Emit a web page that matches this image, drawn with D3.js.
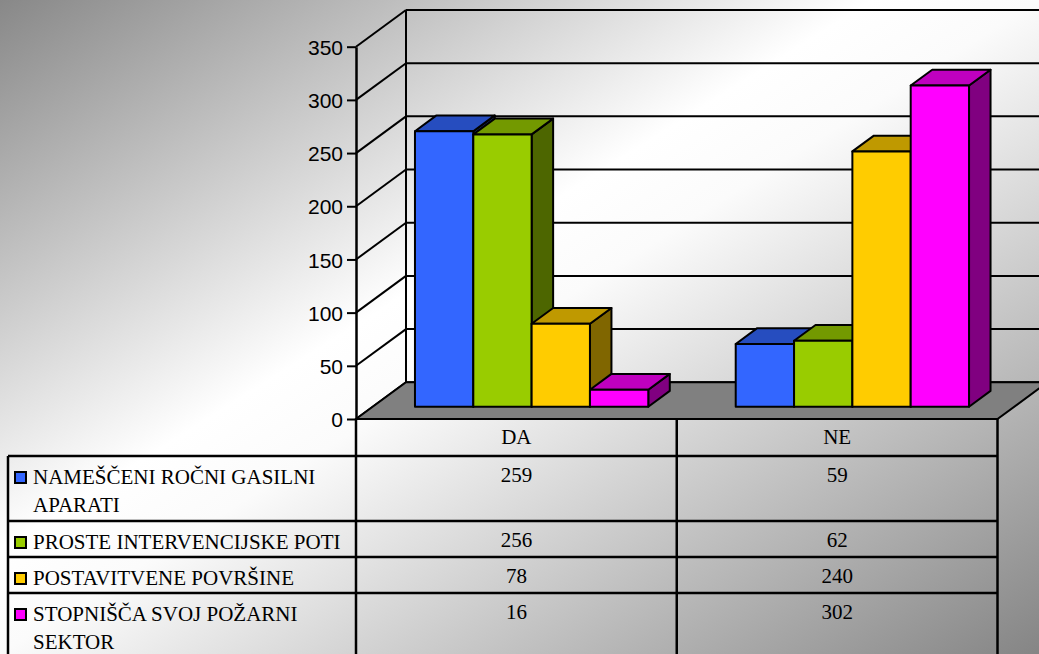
<!DOCTYPE html>
<html>
<head>
<meta charset="utf-8">
<script src="https://cdn.jsdelivr.net/npm/d3@7"></script>
<style>
html,body{margin:0;padding:0;overflow:hidden;background:#fff;}
svg{display:block;}
</style>
</head>
<body>
<svg id="chart" width="1039" height="654"></svg>
<script>
// ---- data ----
const categories = ["DA", "NE"];
const seriesNames = [
  "NAMEŠČENI ROČNI GASILNI APARATI",
  "PROSTE INTERVENCIJSKE POTI",
  "POSTAVITVENE POVRŠINE",
  "STOPNIŠČA SVOJ POŽARNI SEKTOR"
];
const seriesColors = ["#3366FF", "#99CC00", "#FFCC00", "#FF00FF"];
const valuesDA = [259, 256, 78, 16];
const valuesNE = [59, 62, 240, 302];
const tickValues = [0, 50, 100, 150, 200, 250, 300, 350];

const seriesValues = [valuesDA, valuesNE]; // indexed by category

// ---- layout ----
const W = 1039, H = 654;
const DX = 50, DY = -36.7;          // depth projection of the whole plot
const Z0 = 0.335, Z1 = 0.765;       // bar depth range (fraction of depth)
const groupFrac = 0.7274;

const svg = d3.select("#chart");
const defs = svg.append("defs");
const grad = defs.append("linearGradient").attr("id", "bg")
  .attr("x1", 0).attr("y1", 0).attr("x2", 1).attr("y2", 1);
grad.append("stop").attr("offset", 0).attr("stop-color", "#888888");
grad.append("stop").attr("offset", 0.42).attr("stop-color", "#ffffff");
grad.append("stop").attr("offset", 0.5).attr("stop-color", "#fbfbfb");
grad.append("stop").attr("offset", 1).attr("stop-color", "#858585");
svg.append("rect").attr("width", W).attr("height", H).attr("fill", "url(#bg)");

const y = d3.scaleLinear().domain([0, 350]).range([419, 46.7]);
const x0 = d3.scaleBand().domain(categories).range([356, 997.5]).padding(0);
const groupW = x0.bandwidth() * groupFrac;
const x1 = d3.scaleBand().domain(d3.range(seriesNames.length)).range([0, groupW]).padding(0);

const proj = (x, v, z) => [x + z * DX, y(v) + z * DY];
const line = d3.line();

const gWall = svg.append("g").attr("stroke", "#000").attr("stroke-width", 2).attr("fill", "none");
tickValues.forEach(v => {
  gWall.append("path").attr("d", line([proj(356, v, 0), proj(356, v, 1)]));
  gWall.append("path").attr("d", line([proj(356, v, 1), proj(1100, v, 1)]));
});
gWall.append("path").attr("d", line([proj(356, 0, 1), proj(356, 350, 1)]));

// floor
svg.append("path")
  .attr("d", line([proj(356, 0, 0), proj(356, 0, 1), proj(997.5, 0, 1), proj(997.5, 0, 0)]) + "Z")
  .attr("fill", "#808080").attr("stroke", "#000").attr("stroke-width", 2).attr("stroke-linejoin", "miter");

// bars
const shade = (c, k) => { const r = d3.rgb(c); return d3.rgb(r.r * k, r.g * k, r.b * k).formatHex(); };
const gBars = svg.append("g").attr("stroke", "#000").attr("stroke-width", 2).attr("stroke-linejoin", "round");
categories.forEach((cat, ci) => {
  const gx = x0(cat) + (x0.bandwidth() - groupW) / 2 - 1.5;
  seriesValues[ci].forEach((v, si) => {
    const xl = gx + x1(si), xr = xl + x1.bandwidth();
    const col = seriesColors[si];
    gBars.append("path").attr("fill", shade(col, 0.5))
      .attr("d", line([proj(xr, 0, Z0), proj(xr, 0, Z1), proj(xr, v, Z1), proj(xr, v, Z0)]) + "Z");
    gBars.append("path").attr("fill", shade(col, 0.75))
      .attr("d", line([proj(xl, v, Z0), proj(xl, v, Z1), proj(xr, v, Z1), proj(xr, v, Z0)]) + "Z");
    gBars.append("path").attr("fill", col)
      .attr("d", line([proj(xl, 0, Z0), proj(xl, v, Z0), proj(xr, v, Z0), proj(xr, 0, Z0)]) + "Z");
  });
});

// front value axis
const axis = d3.axisLeft(y).tickValues(tickValues).tickSize(9).tickSizeOuter(0).tickPadding(4);
const gAxis = svg.append("g").attr("transform", "translate(356,0)").call(axis);
gAxis.select(".domain").attr("stroke", "#000").attr("stroke-width", 2.5);
gAxis.selectAll(".tick line").attr("stroke", "#000").attr("stroke-width", 2);
gAxis.selectAll(".tick text").attr("fill", "#000")
  .style("font-family", "'Liberation Sans', Arial, sans-serif").style("font-size", "21px")
  .attr("dy", "0.36em");

// ---- data table ----
const tFont = "'Liberation Serif', 'Times New Roman', serif";
const gTable = svg.append("g");
const headerTop = 419, headerBottom = 456;
const tableLeft = 8, tableRight = x0.range()[1];
const labelX = 33, maxLabelW = 320;

categories.forEach(cat => {
  gTable.append("text").attr("x", x0(cat) + x0.bandwidth() / 2).attr("y", headerTop + 25)
    .attr("text-anchor", "middle").style("font-family", tFont).style("font-size", "21px").text(cat);
});

const measure = gTable.append("text").style("font-family", tFont).style("font-size", "21px").attr("opacity", 0);
function wrap(str) {
  const words = str.split(" ");
  const lines = [];
  let cur = "";
  words.forEach(w => {
    const t = cur ? cur + " " + w : w;
    measure.text(t);
    if (measure.node().getComputedTextLength() > maxLabelW && cur) { lines.push(cur); cur = w; }
    else cur = t;
  });
  if (cur) lines.push(cur);
  return lines;
}

let rowTop = headerBottom;
const rowTops = [];
seriesNames.forEach((name, si) => {
  const lines = wrap(name);
  const rh = 36 + 29 * (lines.length - 1);
  rowTops.push(rowTop);
  gTable.append("rect").attr("x", 15).attr("y", rowTop + 16).attr("width", 11).attr("height", 11)
    .attr("fill", seriesColors[si]).attr("stroke", "#000").attr("stroke-width", 2);
  const t = gTable.append("text").style("font-family", tFont).style("font-size", "21px");
  lines.forEach((ln, li) => {
    t.append("tspan").attr("x", labelX).attr("y", rowTop + 28 + li * 28).text(ln);
  });
  categories.forEach((cat, ci) => {
    gTable.append("text").attr("x", x0(cat) + x0.bandwidth() / 2).attr("y", rowTop + 26)
      .attr("text-anchor", "middle").style("font-family", tFont).style("font-size", "21px")
      .text(seriesValues[ci][si]);
  });
  rowTop += rh;
});
rowTops.push(rowTop);
measure.remove();

const gLines = svg.append("g").attr("stroke", "#000").attr("stroke-width", 2.5).attr("fill", "none");
[headerBottom, ...rowTops.slice(1)].forEach(yy => {
  gLines.append("path").attr("d", line([[tableLeft, yy], [tableRight, yy]]));
});
gLines.append("path").attr("d", line([[tableLeft, headerBottom], [tableLeft, rowTop]]));
gLines.append("path").attr("d", line([[356, headerTop], [356, rowTop]]));
categories.forEach(cat => {
  const xr = x0(cat) + x0.bandwidth();
  gLines.append("path").attr("d", line([[xr, headerTop], [xr, rowTop]]));
});
</script>
</body>
</html>
